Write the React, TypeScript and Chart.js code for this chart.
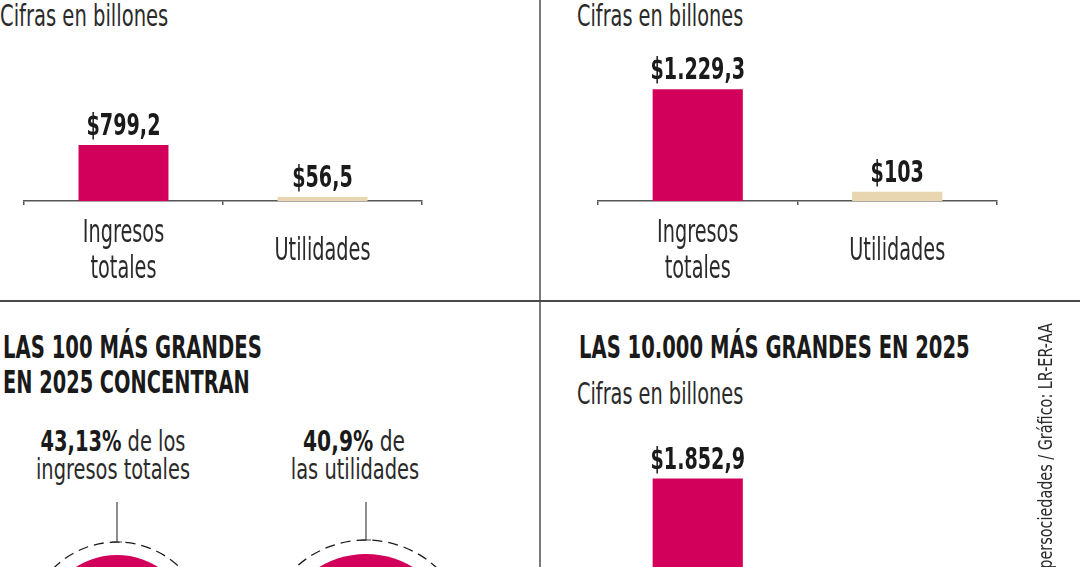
import React, { useEffect, useLayoutEffect, useRef } from 'react';
import { Chart, registerables } from 'chart.js';

Chart.register(...registerables);

// ---- palette & type ----
const PINK = '#d3005b';
const SAND = '#e8d6b0';
const INK = '#1a1a1a';
const SOFT_INK = '#2a2a2a';
const RULE = '#555555';
const NARROW = '"DejaVu Sans Condensed", "Liberation Sans Narrow", "DejaVu Sans", sans-serif';

// horizontal squeeze applied to canvas text so it reads as a condensed face
const VALUE_SQUEEZE = 0.71;
const LABEL_SQUEEZE = 0.67;

// ---- data ----
const barCategories: (string | string[])[] = [['Ingresos', 'totales'], 'Utilidades'];
const leftPanelValues: (number | null)[] = [799.2, 56.5];
const rightPanelValues: (number | null)[] = [1229.3, 103];
const tenThousandValues: (number | null)[] = [1852.9, null];
const shareLabels = ['de los', 'de'];
const shareSubjects = ['ingresos totales', 'las utilidades'];
const shareValues = [43.13, 40.9];

// "$1.229,3" style figures
function pesos(v: number): string {
  const [whole, dec] = v.toFixed(1).split('.');
  const grouped = whole.replace(/\B(?=(\d{3})+(?!\d))/g, '.');
  return '$' + grouped + (dec === '0' ? '' : ',' + dec);
}

function percent(v: number): string {
  return String(v).replace('.', ',') + '%';
}

// value figure above each bar
const valueLabels = {
  id: 'valueLabels',
  afterDatasetsDraw(chart: any) {
    const { ctx } = chart;
    const meta = chart.getDatasetMeta(0);
    const data = chart.data.datasets[0].data as (number | null)[];
    ctx.save();
    ctx.font = `bold 30px ${NARROW}`;
    ctx.fillStyle = INK;
    ctx.textAlign = 'center';
    ctx.textBaseline = 'alphabetic';
    meta.data.forEach((bar: any, i: number) => {
      const v = data[i];
      if (v == null) return;
      ctx.save();
      ctx.translate(bar.x, bar.y - 10);
      ctx.scale(VALUE_SQUEEZE, 1);
      ctx.fillText(pesos(v), 0, 0);
      ctx.restore();
    });
    ctx.restore();
  },
};

// category names under the axis, placed on the x scale, block centred vertically
const categoryLabels = {
  id: 'categoryLabels',
  afterDraw(chart: any) {
    const { ctx } = chart;
    const xScale = chart.scales.x;
    const labels = chart.data.labels as (string | string[])[];
    const size = 32;
    const lineGap = 36;
    const capHalf = 0.729 * size * 0.5;
    const centerY = chart.chartArea.bottom + 47.5;
    ctx.save();
    ctx.font = `${size}px ${NARROW}`;
    ctx.fillStyle = SOFT_INK;
    ctx.textAlign = 'center';
    ctx.textBaseline = 'alphabetic';
    labels.forEach((label, i) => {
      const lines = Array.isArray(label) ? label : [label];
      const x = xScale.getPixelForValue(i);
      lines.forEach((line, j) => {
        const y = centerY + (j - (lines.length - 1) / 2) * lineGap + capHalf;
        ctx.save();
        ctx.translate(x, y);
        ctx.scale(LABEL_SQUEEZE, 1);
        ctx.fillText(line, 0, 0);
        ctx.restore();
      });
    });
    ctx.restore();
  },
};

// dashed ring around the pie plus the leader line up to its caption
const ringAndLeader = {
  id: 'ringAndLeader',
  beforeDatasetsDraw(chart: any, _args: any, opts: any) {
    const arc = chart.getDatasetMeta(0).data[0];
    if (!arc) return;
    const { x, y, outerRadius } = arc.getProps(['x', 'y', 'outerRadius'], true);
    const ctx = chart.ctx;
    const R = outerRadius + opts.gap;
    ctx.save();
    ctx.strokeStyle = INK;
    ctx.lineWidth = 1.3;
    ctx.setLineDash([10, 6]);
    ctx.beginPath();
    ctx.arc(x, y, R, 0, Math.PI * 2);
    ctx.stroke();
    ctx.setLineDash([]);
    ctx.strokeStyle = '#444';
    ctx.lineWidth = 1.2;
    ctx.beginPath();
    ctx.moveTo(x, opts.leaderTop);
    ctx.lineTo(x, y - R);
    ctx.moveTo(x - 5, y - R);
    ctx.lineTo(x + 5, y - R);
    ctx.stroke();
    ctx.restore();
  },
};

type Pad = { left: number; right: number; top: number; bottom: number };

type BarPanelProps = {
  values: (number | null)[];
  max: number;
  left: number;
  top: number;
  width: number;
  height: number;
  padding: Pad;
};

function BarPanel({ values, max, left, top, width, height, padding }: BarPanelProps) {
  const ref = useRef<HTMLCanvasElement>(null);
  useEffect(() => {
    if (!ref.current) return;
    const chart = new Chart(ref.current, {
      type: 'bar',
      data: {
        labels: barCategories as any,
        datasets: [
          {
            data: values as any,
            backgroundColor: [PINK, SAND],
            borderWidth: 0,
            categoryPercentage: 1,
            barPercentage: 0.452,
          },
        ],
      },
      options: {
        animation: false,
        responsive: false,
        events: [],
        layout: { padding },
        plugins: { legend: { display: false }, tooltip: { enabled: false } },
        scales: {
          x: {
            grid: {
              display: true,
              drawOnChartArea: false,
              drawTicks: true,
              tickLength: 4,
              color: RULE,
              lineWidth: 1.5,
              offset: true,
            },
            border: { display: true, color: RULE, width: 1.5 },
            ticks: { display: false },
          },
          y: { display: false, min: 0, max },
        },
      },
      plugins: [valueLabels, categoryLabels],
    });
    return () => chart.destroy();
  }, []);
  return (
    <canvas
      ref={ref}
      width={width}
      height={height}
      style={{ position: 'absolute', left, top, width, height }}
    />
  );
}

type SharePieProps = {
  value: number;
  left: number;
  top: number;
  padding: Pad;
  gap: number;
};

function SharePie({ value, left, top, padding, gap }: SharePieProps) {
  const ref = useRef<HTMLCanvasElement>(null);
  useEffect(() => {
    if (!ref.current) return;
    const sweep = (value / 100) * 360;
    const chart = new Chart(ref.current, {
      type: 'pie',
      data: {
        labels: ['100 más grandes', 'Resto'],
        datasets: [{ data: [value, 100 - value], backgroundColor: [PINK, SAND], borderWidth: 0 }],
      },
      options: {
        animation: false,
        responsive: false,
        events: [],
        rotation: -sweep / 2,
        layout: { padding },
        plugins: {
          legend: { display: false },
          tooltip: { enabled: false },
          ringAndLeader: { gap, leaderTop: 7 },
        } as any,
      },
      plugins: [ringAndLeader],
    });
    return () => chart.destroy();
  }, []);
  return (
    <canvas
      ref={ref}
      width={240}
      height={260}
      style={{ position: 'absolute', left, top, width: 240, height: 260 }}
    />
  );
}

// a single line of condensed text squeezed to a set width, placed by its baseline
function FitText({
  x,
  baseline,
  size,
  width,
  align = 'left',
  bold = false,
  children,
}: {
  x: number;
  baseline: number;
  size: number;
  width: number;
  align?: 'left' | 'center';
  bold?: boolean;
  children: React.ReactNode;
}) {
  const ref = useRef<HTMLSpanElement>(null);
  useLayoutEffect(() => {
    const el = ref.current;
    if (!el) return;
    const natural = el.offsetWidth;
    const k = natural > 0 ? width / natural : 1;
    el.style.transform =
      align === 'center' ? `translateX(-50%) scaleX(${k})` : `scaleX(${k})`;
  });
  return (
    <span
      ref={ref}
      style={{
        position: 'absolute',
        left: x,
        top: baseline - 0.846 * size,
        fontSize: size,
        lineHeight: `${size}px`,
        height: size,
        whiteSpace: 'nowrap',
        fontWeight: bold ? 700 : 400,
        color: bold ? INK : SOFT_INK,
        transformOrigin: align === 'center' ? 'center' : 'left',
      }}
    >
      {children}
    </span>
  );
}

export default function App() {
  useLayoutEffect(() => {
    document.body.style.margin = '0';
  }, []);

  return (
    <div
      style={{
        position: 'relative',
        width: 1080,
        height: 567,
        overflow: 'hidden',
        background: '#ffffff',
        fontFamily: NARROW,
      }}
    >
      {/* panel dividers */}
      <div style={{ position: 'absolute', left: 539, top: 0, width: 2, height: 567, background: '#7a7a7a' }} />
      <div style={{ position: 'absolute', left: 0, top: 300, width: 1080, height: 2, background: '#4a4a4a' }} />

      {/* top-left panel */}
      <FitText x={0} baseline={26} size={30} width={168}>
        Cifras en billones
      </FitText>
      <BarPanel
        values={leftPanelValues}
        max={2300}
        left={0}
        top={0}
        width={539}
        height={300}
        padding={{ left: 24, right: 117, top: 40, bottom: 95 }}
      />

      {/* top-right panel */}
      <FitText x={577} baseline={26} size={30} width={166}>
        Cifras en billones
      </FitText>
      <BarPanel
        values={rightPanelValues}
        max={2200}
        left={541}
        top={0}
        width={539}
        height={300}
        padding={{ left: 57, right: 83, top: 1, bottom: 95 }}
      />

      {/* bottom-left panel */}
      <FitText x={3} baseline={358} size={32} width={259} bold>
        LAS 100 MÁS GRANDES
      </FitText>
      <FitText x={3} baseline={393} size={32} width={247} bold>
        EN 2025 CONCENTRAN
      </FitText>

      <FitText x={113} baseline={452} size={28} width={145} align="center">
        <b style={{ color: INK }}>{percent(shareValues[0])}</b> {shareLabels[0]}
      </FitText>
      <FitText x={113} baseline={480} size={28} width={154} align="center">
        {shareSubjects[0]}
      </FitText>
      <FitText x={354} baseline={452} size={28} width={102} align="center">
        <b style={{ color: INK }}>{percent(shareValues[1])}</b> {shareLabels[1]}
      </FitText>
      <FitText x={355} baseline={480} size={28} width={128} align="center">
        {shareSubjects[1]}
      </FitText>

      <SharePie
        value={shareValues[0]}
        left={-3}
        top={495}
        gap={13}
        padding={{ left: 43, right: 43, top: 60, bottom: 46 }}
      />
      <SharePie
        value={shareValues[1]}
        left={246}
        top={495}
        gap={14}
        padding={{ left: 30, right: 30, top: 59, bottom: 21 }}
      />

      {/* bottom-right panel */}
      <FitText x={579} baseline={358} size={32} width={391} bold>
        LAS 10.000 MÁS GRANDES EN 2025
      </FitText>
      <FitText x={577} baseline={404} size={30} width={166}>
        Cifras en billones
      </FitText>
      <BarPanel
        values={tenThousandValues}
        max={2200}
        left={541}
        top={302}
        width={539}
        height={444}
        padding={{ left: 57, right: 83, top: 145, bottom: 95 }}
      />

      {/* source credit, reading bottom to top, right-aligned so it ends near the top */}
      <div
        style={{
          position: 'absolute',
          left: 1035,
          top: 323 + 500,
          width: 500,
          height: 20,
          transformOrigin: 'left top',
          transform: 'rotate(-90deg)',
          textAlign: 'right',
          whiteSpace: 'nowrap',
        }}
      >
        <span
          style={{
            display: 'inline-block',
            fontSize: 20,
            lineHeight: '20px',
            color: SOFT_INK,
            transformOrigin: 'right center',
            transform: 'scaleX(0.80)',
          }}
        >
          Fuente: Supersociedades / Gráfico: LR-ER-AA
        </span>
      </div>
    </div>
  );
}
